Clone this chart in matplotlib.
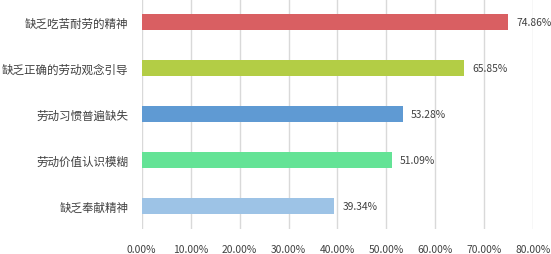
import matplotlib.pyplot as plt
from matplotlib.ticker import FuncFormatter

plt.rcParams["font.family"] = ["Noto Sans CJK SC", "DejaVu Sans"]

categories = ["缺乏吃苦耐劳的精神", "缺乏正确的劳动观念引导", "劳动习惯普遍缺失",
              "劳动价值认识模糊", "缺乏奉献精神"]
values = [74.86, 65.85, 53.28, 51.09, 39.34]
colors = ["#D95F62", "#B3CD45", "#5F9AD3", "#64E396", "#9DC3E6"]
xticks = [0, 10, 20, 30, 40, 50, 60, 70, 80]

fig = plt.figure(figsize=(5.51, 2.55), dpi=100)
ax = fig.add_axes([0.257, 0.098, 0.711, 0.902])

pos = list(range(len(categories)))
ax.barh(pos, values, height=0.35, color=colors, zorder=3)

for p, v in zip(pos, values):
    ax.annotate(f"{v:.2f}%", (v, p), textcoords="offset points", xytext=(6, 0),
                va="center", ha="left", fontsize=7.4, color="#404040")

ax.set_ylim(len(categories) - 0.5, -0.5)
ax.set_xlim(0, 80)
ax.set_xticks(xticks)
ax.xaxis.set_major_formatter(FuncFormatter(lambda x, _: f"{x:.2f}%"))
ax.set_yticks(pos)
ax.set_yticklabels(categories, fontsize=8.3)

ax.tick_params(axis="x", length=0, labelsize=7.4, colors="#404040", pad=11)
ax.tick_params(axis="y", length=0, colors="#404040", pad=9.5)
ax.grid(axis="x", color="#D9D9D9", linewidth=1, zorder=0)
for s in ax.spines.values():
    s.set_visible(False)

fig.savefig("out.png", dpi=100)
